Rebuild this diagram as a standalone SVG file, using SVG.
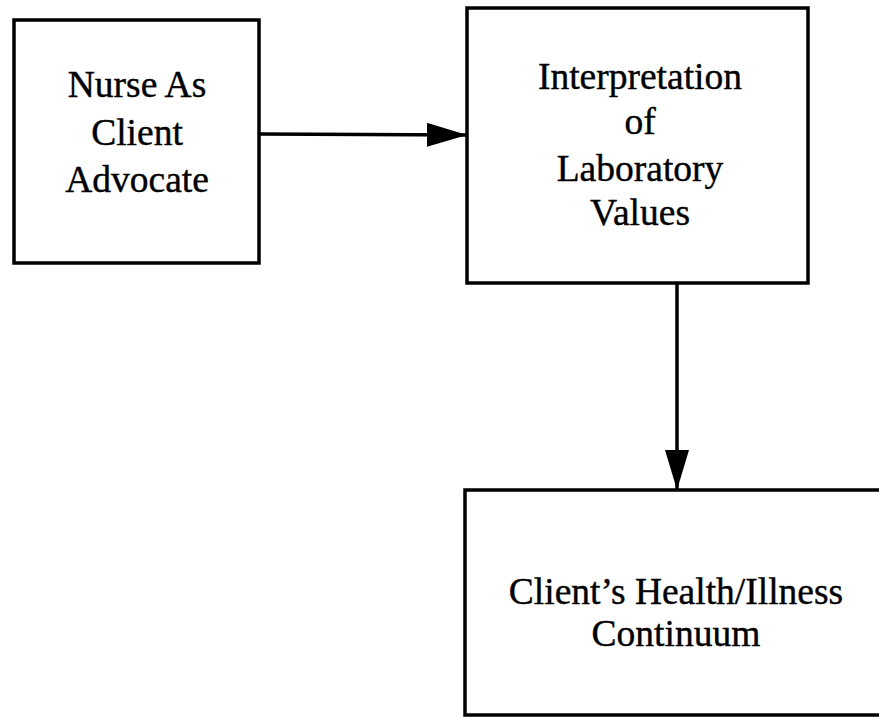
<svg xmlns="http://www.w3.org/2000/svg" width="879" height="717" viewBox="0 0 879 717">
<style>
.box{fill:#fff;stroke:#000;stroke-width:3.5}
.t{font-family:"Liberation Serif","Times New Roman",serif;font-size:37.5px;fill:#000;stroke:#000;stroke-width:0.4;text-anchor:middle}
.c{stroke:#000;stroke-width:3.5;fill:none}
</style>
<defs>
<marker id="ah" markerUnits="userSpaceOnUse" markerWidth="42" markerHeight="26" refX="40" refY="12" orient="auto">
<path d="M0,0 L40,12 L0,24 Z" fill="#000"/>
</marker>
</defs>
<rect width="879" height="717" fill="#fff"/>
<g id="n1">
<rect class="box" x="14" y="20" width="245" height="243"/>
<text class="t" x="137" y="97">Nurse As</text>
<text class="t" x="137" y="145">Client</text>
<text class="t" x="137" y="192">Advocate</text>
</g>
<g id="n2">
<rect class="box" x="467" y="8" width="341" height="275"/>
<text class="t" x="640" y="89">Interpretation</text>
<text class="t" x="640" y="134">of</text>
<text class="t" x="640" y="181">Laboratory</text>
<text class="t" x="640" y="225">Values</text>
</g>
<g id="n3">
<rect class="box" x="465" y="490" width="430" height="225"/>
<text class="t" x="676" y="604">Client’s Health/Illness</text>
<text class="t" x="676" y="646">Continuum</text>
</g>
<g id="connectors">
<line class="c" x1="259" y1="134" x2="467" y2="135" marker-end="url(#ah)"/>
<line class="c" x1="677" y1="283" x2="677" y2="490" marker-end="url(#ah)"/>
</g>
</svg>
